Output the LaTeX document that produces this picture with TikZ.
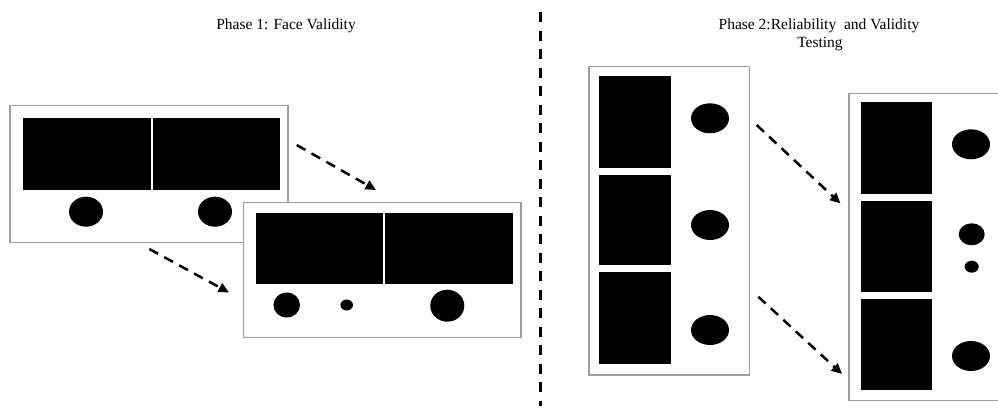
\documentclass[tikz,border=0pt]{standalone}
\usepackage{fontspec}
\setmainfont{Liberation Serif}
\usetikzlibrary{arrows.meta}

\tikzset{
  panel/.style={draw=black!38, line width=1.3pt, fill=white},
  block/.style={fill=black},
  dot/.style={fill=black},
  flow/.style={line width=2.5pt, dash pattern=on 10pt off 7pt,
    -{Triangle[length=10.5pt,width=9.5pt]}},
  divider/.style={line width=3pt, dash pattern=on 10pt off 8.5pt},
  heading/.style={font=\fontsize{15.5}{18.5}\selectfont, anchor=base, align=center}
}

\begin{document}
\begin{tikzpicture}[x=1pt, y=-1pt]
\clip (0,0) rectangle (998,410);
\fill[white] (0,0) rectangle (998,410);

% headings
\node[heading] (t1) at (286,29) {Phase 1: Face Validity};
\node[heading] (t2a) at (819,29) {Phase 2:Reliability \ and Validity};
\node[heading] (t2b) at (820,47.5) {Testing};

% phase separator
\coordinate (sepTop) at (540.7,12);
\coordinate (sepBot) at (540.7,406);
\draw[divider] (sepTop) -- (sepBot);

% ---- Phase 1: first layout
\draw[panel] (10,105.7) rectangle (288,242.7);
\fill[block] (23.3,118.3) rectangle (151,190);
\fill[block] (152.7,118.3) rectangle (280,190);
\fill[dot] (86,211.7) ellipse [x radius=17pt, y radius=15pt];
\fill[dot] (215,211.7) ellipse [x radius=17pt, y radius=15pt];

% ---- Phase 1: revised layout
\draw[panel] (243.3,202.7) rectangle (521,337.7);
\fill[block] (256,212.7) rectangle (383,284);
\fill[block] (385,212.7) rectangle (512.7,284);
\fill[dot] (286.7,305) ellipse [x radius=13.3pt, y radius=12.5pt];
\fill[dot] (346.7,305) ellipse [x radius=6.3pt, y radius=5.5pt];
\fill[dot] (447.3,305.7) ellipse [x radius=17pt, y radius=16pt];

% phase 1 arrows
\coordinate (a1s) at (296.7,145);
\coordinate (a1e) at (376,190);
\coordinate (a2s) at (149.3,249);
\coordinate (a2e) at (229,292.5);
\draw[flow] (a1s) -- (a1e);
\draw[flow] (a2s) -- (a2e);

% ---- Phase 2: first layout
\draw[panel] (589,66.7) rectangle (749.3,375);
\fill[block] (599,75.7) rectangle (670.7,167.7);
\fill[block] (599,175) rectangle (670.7,265);
\fill[block] (599,272.3) rectangle (670.7,364);
\fill[dot] (710,118.3) ellipse [x radius=19pt, y radius=15pt];
\fill[dot] (710,225) ellipse [x radius=19pt, y radius=15pt];
\fill[dot] (710,330) ellipse [x radius=19pt, y radius=15pt];

% ---- Phase 2: revised layout
\draw[panel] (849,93.3) rectangle (1010,400.7);
\fill[block] (860.7,101.7) rectangle (932.3,194);
\fill[block] (860.7,200.7) rectangle (932.3,291.7);
\fill[block] (860.7,299) rectangle (932.3,390);
\fill[dot] (971,144.3) ellipse [x radius=19pt, y radius=15pt];
\fill[dot] (971.7,234.3) ellipse [x radius=13pt, y radius=11pt];
\fill[dot] (971.7,266.7) ellipse [x radius=7pt, y radius=6pt];
\fill[dot] (971,356) ellipse [x radius=19pt, y radius=15pt];

% phase 2 arrows
\coordinate (a3s) at (756.7,125);
\coordinate (a3e) at (840.5,203.5);
\coordinate (a4s) at (758.3,296.7);
\coordinate (a4e) at (842,374);
\draw[flow] (a3s) -- (a3e);
\draw[flow] (a4s) -- (a4e);
\end{tikzpicture}
\end{document}
